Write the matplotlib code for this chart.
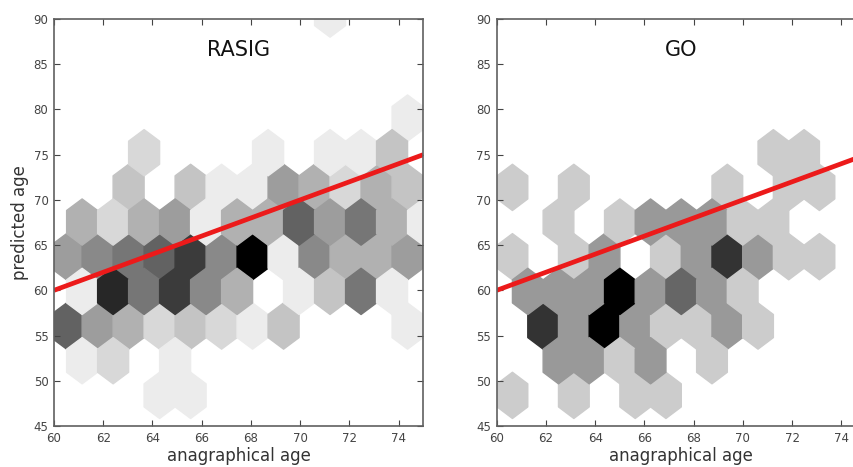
import numpy as np
import matplotlib
matplotlib.use('Agg')
import matplotlib.pyplot as plt

# hexagon cells: centre x, centre y, count in the cell
rasig_x = [71.2,
           74.4,
           63.7, 68.7, 71.2, 72.5, 73.7,
           63.0, 65.5, 66.8, 68.1, 69.3, 70.6, 71.9, 73.1, 74.4,
           61.1, 62.4, 63.7, 64.9, 66.2, 67.4, 68.7, 70.0, 71.2, 72.5, 73.7, 75.0,
           60.5, 61.8, 63.0, 64.3, 65.5, 66.8, 68.1, 69.3, 70.6, 71.9, 73.1, 74.4,
           61.1, 62.4, 63.7, 64.9, 66.2, 67.4, 70.0, 71.2, 72.5, 73.7,
           60.5, 61.8, 63.0, 64.3, 65.5, 66.8, 68.1, 69.3, 74.4,
           61.1, 62.4, 64.9,
           64.3, 65.5]
rasig_y = [90.6,
           79.1,
           75.2, 75.2, 75.2, 75.2, 75.2,
           71.4, 71.4, 71.4, 71.4, 71.4, 71.4, 71.4, 71.4, 71.4,
           67.6, 67.6, 67.6, 67.6, 67.6, 67.6, 67.6, 67.6, 67.6, 67.6, 67.6, 67.6,
           63.7, 63.7, 63.7, 63.7, 63.7, 63.7, 63.7, 63.7, 63.7, 63.7, 63.7, 63.7,
           59.9, 59.9, 59.9, 59.9, 59.9, 59.9, 59.9, 59.9, 59.9, 59.9,
           56.1, 56.1, 56.1, 56.1, 56.1, 56.1, 56.1, 56.1, 56.1,
           52.2, 52.2, 52.2,
           48.4, 48.4]
rasig_n = [1,
           1,
           2, 1, 1, 1, 3,
           3, 3, 1, 1, 5, 4, 2, 4, 3,
           4, 2, 4, 5, 1, 4, 4, 8, 5, 7, 4, 1,
           5, 6, 7, 8, 10, 6, 13, 1, 6, 4, 4, 5,
           1, 11, 7, 10, 6, 4, 1, 3, 7, 1,
           8, 5, 4, 2, 3, 2, 1, 3, 1,
           1, 2, 1,
           1, 1]

go_x = [71.25, 72.5,
        60.6, 63.1, 69.4, 71.9, 73.1,
        62.5, 65.0, 66.25, 67.5, 68.75, 70.0, 71.25,
        60.6, 63.1, 64.4, 66.9, 68.1, 69.4, 70.6, 71.9, 73.1,
        61.25, 62.5, 63.75, 65.0, 66.25, 67.5, 68.75, 70.0,
        61.9, 63.1, 64.4, 65.6, 66.9, 68.1, 69.4, 70.6,
        62.5, 63.75, 65.0, 66.25, 68.75,
        60.6, 63.1, 65.6, 66.9]
go_y = [75.2, 75.2,
        71.4, 71.4, 71.4, 71.4, 71.4,
        67.6, 67.6, 67.6, 67.6, 67.6, 67.6, 67.6,
        63.7, 63.7, 63.7, 63.7, 63.7, 63.7, 63.7, 63.7, 63.7,
        59.9, 59.9, 59.9, 59.9, 59.9, 59.9, 59.9, 59.9,
        56.1, 56.1, 56.1, 56.1, 56.1, 56.1, 56.1, 56.1,
        52.2, 52.2, 52.2, 52.2, 52.2,
        48.4, 48.4, 48.4, 48.4]
go_n = [1, 1,
        1, 1, 1, 1, 1,
        1, 1, 2, 2, 2, 1, 1,
        1, 1, 2, 1, 2, 4, 2, 1, 1,
        2, 2, 2, 5, 2, 3, 2, 1,
        4, 2, 5, 2, 1, 1, 2, 1,
        2, 2, 1, 2, 1,
        1, 1, 1, 1]

# identity line drawn on both panels
line_x = [60, 75]
line_y = [60, 75]

xticks = [60, 62, 64, 66, 68, 70, 72, 74]
yticks = [45, 50, 55, 60, 65, 70, 75, 80, 85, 90]


def panel(ax, x, y, n, extent, title):
    ax.hexbin(x, y, C=n, reduce_C_function=np.sum, gridsize=13, extent=extent,
              cmap='gray_r', vmin=0, vmax=max(n))
    ax.plot(line_x, line_y, color='#ec1a1a', lw=3.4, solid_capstyle='butt')
    ax.set_xlim(60, 75)
    ax.set_ylim(45, 90)
    ax.set_xticks(xticks)
    ax.set_yticks(yticks)
    ax.tick_params(direction='in', top=True, right=True, length=4, width=0.8,
                   labelsize=8.5, pad=4, colors='#444444')
    for s in ax.spines.values():
        s.set_color('#606060')
        s.set_linewidth(1.2)
    ax.text(0.5, 0.924, title, transform=ax.transAxes, ha='center', va='center',
            fontsize=15, color='#111111')
    ax.set_xlabel('anagraphical age', fontsize=12, color='#333333', labelpad=2)


fig = plt.figure(figsize=(8.54, 4.67), dpi=100)
ax1 = fig.add_axes([0.0632, 0.0878, 0.4324, 0.8715])
ax2 = fig.add_axes([0.5816, 0.0878, 0.4324, 0.8715])

panel(ax1, rasig_x, rasig_y, rasig_n, (59.255, 75.622, 40.72, 94.38), 'RASIG')
panel(ax2, go_x, go_y, go_n, (59.393, 75.604, 40.72, 94.38), 'GO')
ax1.set_ylabel('predicted age', fontsize=12, color='#333333', labelpad=3)

fig.savefig('out.png', dpi=100)
